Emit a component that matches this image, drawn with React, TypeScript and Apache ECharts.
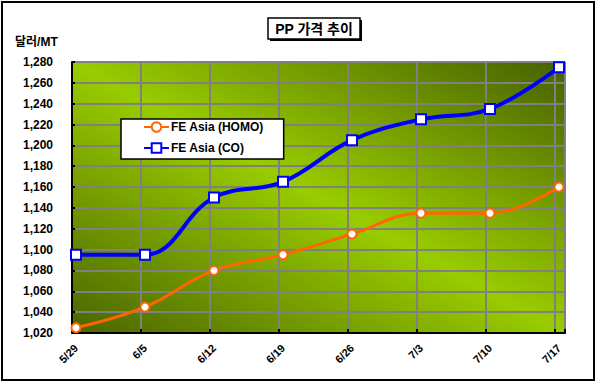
import React, { useEffect, useRef } from "react";
import * as echarts from "echarts";

const categories = ["5/29", "6/5", "6/12", "6/19", "6/26", "7/3", "7/10", "7/17"];
const homoValues = [1025, 1045, 1080, 1095, 1115, 1135, 1135, 1160];
const coValues = [1095, 1095, 1150, 1165, 1205, 1225, 1235, 1275];
const seriesNames = ["FE Asia (HOMO)", "FE Asia (CO)"];
const yMin = 1020;
const yMax = 1280;
const yStep = 20;
const titleText = "PP 가격 추이";
const yUnit = "달러/MT";

const FONT = "'Liberation Sans', Arial, 'Noto Sans CJK KR', sans-serif";

export default function App() {
  const ref = useRef<HTMLDivElement>(null);
  useEffect(() => {
    if (!ref.current) return;
    const chart = echarts.init(ref.current, null, { renderer: "svg" });
    const bg = new echarts.graphic.LinearGradient(0, 1, 1, 0, [
      { offset: 0, color: "#4A6500" },
      { offset: 0.5, color: "#99CC00" },
      { offset: 1, color: "#466000" },
    ]);
    chart.setOption({
      animation: false,
      backgroundColor: "#ffffff",
      textStyle: { fontFamily: FONT },
      grid: [
        { left: 76, right: 37, top: 62, bottom: 49 },
        {
          left: 72,
          right: 31,
          top: 62,
          bottom: 49,
          show: true,
          backgroundColor: bg,
          borderWidth: 0,
        },
      ],
      xAxis: [
        {
          type: "category",
          gridIndex: 0,
          data: categories,
          boundaryGap: false,
          axisLine: { show: false },
          axisTick: { show: false },
          splitLine: { show: false },
          axisLabel: {
            rotate: 45,
            margin: 13,
            fontSize: 11,
            fontWeight: "bold",
            color: "#000",
            fontFamily: FONT,
          },
          z: 5,
        },
        {
          type: "value",
          gridIndex: 1,
          min: 0,
          max: 493 / 69,
          interval: 1,
          axisLine: { show: true, lineStyle: { color: "#000", width: 2 } },
          axisTick: { show: true, inside: true, length: 4, lineStyle: { color: "#000", width: 2 } },
          axisLabel: { show: false },
          splitLine: {
            show: true,
            showMinLine: false,
            lineStyle: { color: "#808080", width: 2 },
          },
          z: 2,
        },
      ],
      yAxis: [
        {
          type: "value",
          gridIndex: 0,
          min: yMin,
          max: yMax,
          interval: yStep,
          show: false,
        },
        {
          type: "value",
          gridIndex: 1,
          min: yMin,
          max: yMax,
          interval: yStep,
          axisLine: { show: true, lineStyle: { color: "#000", width: 2 } },
          axisTick: { show: true, inside: true, length: 3, lineStyle: { color: "#000", width: 2 } },
          axisLabel: {
            margin: 19,
            fontSize: 12,
            fontWeight: "bold",
            color: "#000",
            fontFamily: FONT,
            formatter: (v: number) => v.toLocaleString("en-US"),
          },
          splitLine: {
            show: true,
            showMinLine: false,
            lineStyle: { color: "#808080", width: 2 },
          },
          z: 2,
        },
      ],
      legend: {
        left: 121,
        top: 119,
        orient: "vertical",
        data: seriesNames,
        backgroundColor: "#ffffff",
        borderColor: "#000",
        borderWidth: 1.5,
        borderRadius: 0,
        padding: [2, 20, 5, 22],
        itemWidth: 25,
        itemHeight: 12,
        itemGap: 9,
        textStyle: { fontSize: 12, fontWeight: "bold", color: "#000", fontFamily: FONT, padding: [0, 0, 0, -3] },
        z: 10,
      },
      series: [
        {
          name: seriesNames[0],
          type: "line",
          xAxisIndex: 0,
          yAxisIndex: 0,
          data: homoValues,
          smooth: 0.4,
          symbol: "circle",
          symbolSize: 9,
          lineStyle: { color: "#FF6600", width: 3 },
          itemStyle: { color: "#ffffff", borderColor: "#FF6600", borderWidth: 2 },
          z: 4,
        },
        {
          name: seriesNames[1],
          type: "line",
          xAxisIndex: 0,
          yAxisIndex: 0,
          data: coValues,
          smooth: 0.4,
          symbol: "rect",
          symbolSize: 10,
          lineStyle: { color: "#0000FF", width: 4 },
          itemStyle: { color: "#ffffff", borderColor: "#0000FF", borderWidth: 2 },
          z: 4,
        },
      ],
      graphic: [
        {
          type: "rect",
          shape: { x: 2, y: 2, width: 592, height: 378 },
          style: { fill: "none", stroke: "#000", lineWidth: 2 },
          silent: true,
          z: 0,
        },
        {
          type: "rect",
          shape: { x: 270, y: 20, width: 92, height: 21 },
          style: { fill: "#000" },
          z: 20,
        },
        {
          type: "rect",
          shape: { x: 268, y: 18, width: 92, height: 21 },
          style: { fill: "#fff", stroke: "#000", lineWidth: 1.5 },
          z: 21,
        },
        {
          type: "text",
          x: 314,
          y: 29,
          style: {
            text: titleText,
            fontSize: 14,
            fontWeight: "bold",
            fontFamily: FONT,
            fill: "#000",
            align: "center",
            verticalAlign: "middle",
          },
          z: 22,
        },
        {
          type: "text",
          x: 15,
          y: 42,
          style: {
            text: yUnit,
            fontSize: 12,
            fontWeight: "bold",
            fontFamily: FONT,
            fill: "#000",
            align: "left",
            verticalAlign: "middle",
          },
          z: 22,
        },
      ],
    });
    return () => chart.dispose();
  }, []);
  return (
    <div
      ref={ref}
      style={{ position: "fixed", left: 0, top: 0, width: 596, height: 382 }}
    />
  );
}
